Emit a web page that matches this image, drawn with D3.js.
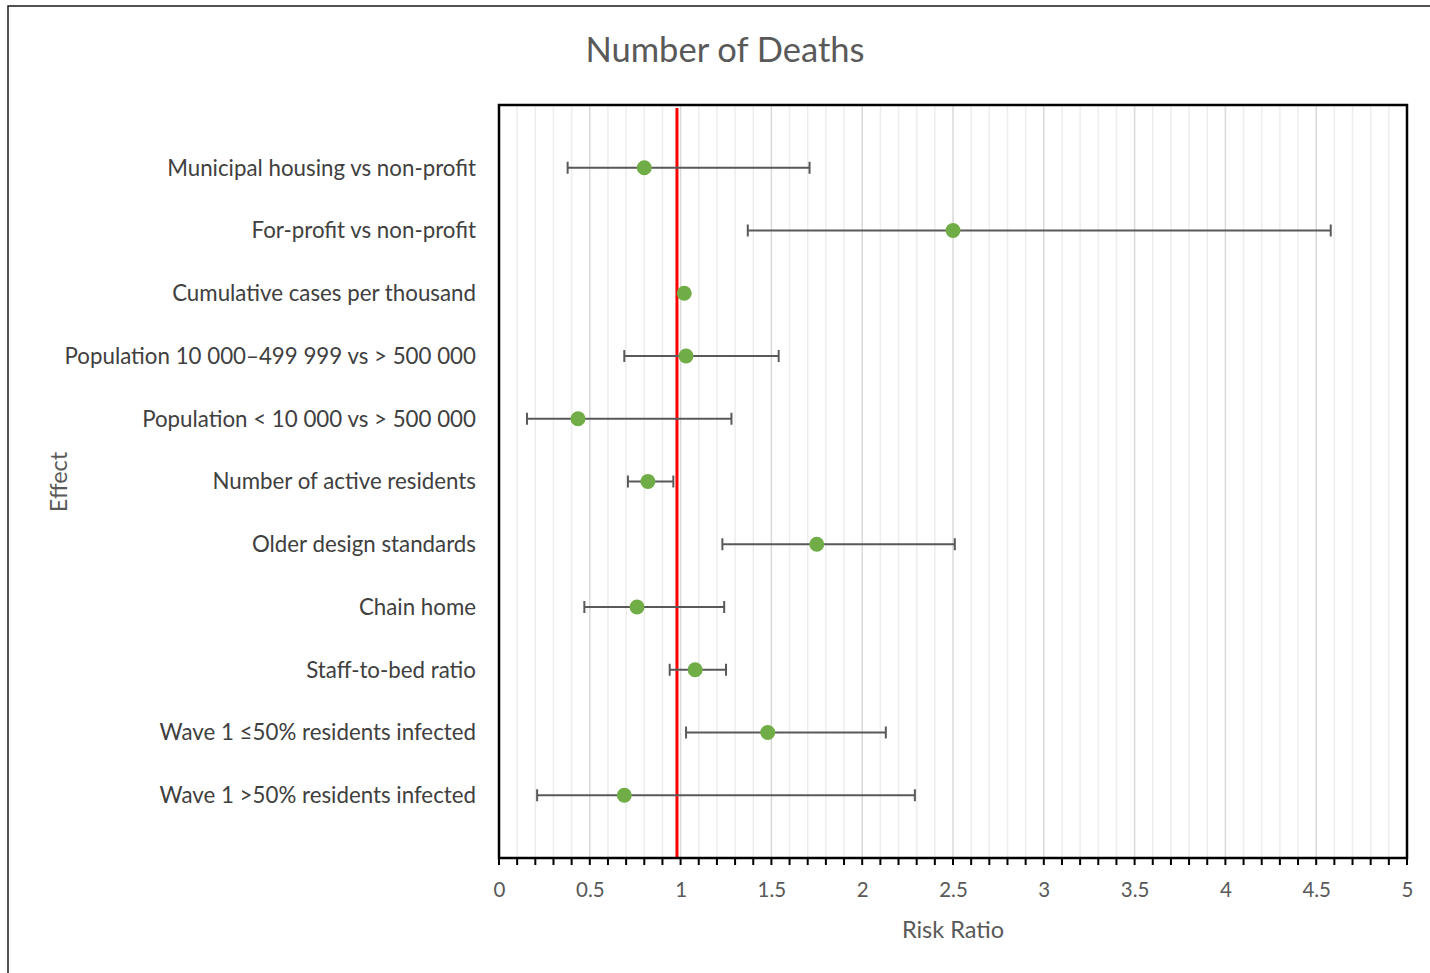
<!DOCTYPE html>
<html>
<head>
<meta charset="utf-8">
<script src="https://cdn.jsdelivr.net/npm/d3@7/dist/d3.min.js"></script>
<style>
  html, body { margin: 0; padding: 0; background: #fff; }
  svg { display: block; }
  text { font-family: Lato, "Open Sans", sans-serif; }
</style>
</head>
<body>
<svg id="chart" width="1430" height="973"></svg>
<script>
// Effects, top to bottom
const effects = [
  "Municipal housing vs non-profit",
  "For-profit vs non-profit",
  "Cumulative cases per thousand",
  "Population 10 000–499 999 vs > 500 000",
  "Population < 10 000 vs > 500 000",
  "Number of active residents",
  "Older design standards",
  "Chain home",
  "Staff-to-bed ratio",
  "Wave 1 ≤50% residents infected",
  "Wave 1 >50% residents infected"
];
// Risk ratio estimates and 95% confidence limits
const riskRatio = [0.80, 2.50, 1.02, 1.03, 0.435, 0.82, 1.75, 0.76, 1.08, 1.48, 0.69];
const lowerCI   = [0.378, 1.37, 1.015, 0.69, 0.154, 0.71, 1.23, 0.47, 0.94, 1.03, 0.21];
const upperCI   = [1.71, 4.58, 1.025, 1.54, 1.28, 0.96, 2.51, 1.24, 1.25, 2.13, 2.29];
const xTicks = [0, 0.5, 1, 1.5, 2, 2.5, 3, 3.5, 4, 4.5, 5];
const referenceLine = 0.98;

const svg = d3.select("#chart");
const plot = { left: 499, right: 1407, top: 105, bottom: 858 };

// Outer chart border
svg.append("rect")
  .attr("x", 8).attr("y", 6).attr("width", 1440).attr("height", 1000)
  .attr("fill", "none").attr("stroke", "#1a1a1a").attr("stroke-width", 1.5);

const x = d3.scaleLinear().domain([0, 5]).range([plot.left, plot.right]);
const y = d3.scaleLinear().domain([0, effects.length + 1]).range([plot.top, plot.bottom]);

// Gridlines: minor every 0.1, major every 0.5
const minor = d3.range(1, 50).map(i => i / 10).filter(v => Math.abs(v * 2 - Math.round(v * 2)) > 1e-6);
svg.append("g").selectAll("line").data(minor).join("line")
  .attr("x1", d => x(d)).attr("x2", d => x(d))
  .attr("y1", plot.top).attr("y2", plot.bottom)
  .attr("stroke", "#ededed").attr("stroke-width", 1.5);
svg.append("g").selectAll("line").data(xTicks.slice(1, -1)).join("line")
  .attr("x1", d => x(d)).attr("x2", d => x(d))
  .attr("y1", plot.top).attr("y2", plot.bottom)
  .attr("stroke", "#d9d9d9").attr("stroke-width", 1.5);

// Reference line
svg.append("line")
  .attr("x1", x(referenceLine)).attr("x2", x(referenceLine))
  .attr("y1", plot.top + 3).attr("y2", plot.bottom)
  .attr("stroke", "#ff0000").attr("stroke-width", 3);

// Error bars
const rows = effects.map((name, i) => ({ name, i, rr: riskRatio[i], lo: lowerCI[i], hi: upperCI[i] }));
const bars = svg.append("g").attr("stroke", "#595959").attr("stroke-width", 2).attr("fill", "none");
rows.forEach(d => {
  const cy = y(d.i + 1);
  bars.append("line").attr("x1", x(d.lo)).attr("x2", x(d.hi)).attr("y1", cy).attr("y2", cy);
  bars.append("line").attr("x1", x(d.lo)).attr("x2", x(d.lo)).attr("y1", cy - 6).attr("y2", cy + 6);
  bars.append("line").attr("x1", x(d.hi)).attr("x2", x(d.hi)).attr("y1", cy - 6).attr("y2", cy + 6);
});

// Point estimates
svg.append("g").selectAll("circle").data(rows).join("circle")
  .attr("cx", d => x(d.rr)).attr("cy", d => y(d.i + 1))
  .attr("r", 7.5).attr("fill", "#70ad47");

// Plot frame
svg.append("rect")
  .attr("x", plot.left).attr("y", plot.top)
  .attr("width", plot.right - plot.left).attr("height", plot.bottom - plot.top)
  .attr("fill", "none").attr("stroke", "#000").attr("stroke-width", 2.5);

// X axis with minor ticks
const minorAll = d3.range(0, 51).map(i => i / 10);
svg.append("g").selectAll("line").data(minorAll).join("line")
  .attr("x1", d => x(d)).attr("x2", d => x(d))
  .attr("y1", plot.bottom).attr("y2", plot.bottom + 7)
  .attr("stroke", "#000").attr("stroke-width", 2);

const xAxis = d3.axisBottom(x).tickValues(xTicks).tickSize(0).tickPadding(24)
  .tickFormat(d => String(d));
const gx = svg.append("g").attr("transform", `translate(0,${plot.bottom})`).call(xAxis);
gx.select(".domain").remove();
gx.selectAll("text").attr("font-size", 20.5).attr("fill", "#595959")
  .style("font-family", "Lato, 'Open Sans', sans-serif");

// Category labels
svg.append("g").selectAll("text").data(rows).join("text")
  .attr("x", 476).attr("y", d => y(d.i + 1))
  .attr("dy", "0.35em").attr("text-anchor", "end")
  .attr("font-size", 22.3).attr("fill", "#404040")
  .text(d => d.name);

// Titles
svg.append("text").attr("x", 725).attr("y", 62).attr("text-anchor", "middle")
  .attr("font-size", 34.5).attr("fill", "#595959").text("Number of Deaths");
svg.append("text").attr("x", 953).attr("y", 938).attr("text-anchor", "middle")
  .attr("font-size", 23.5).attr("fill", "#595959").text("Risk Ratio");
svg.append("text").attr("transform", "translate(67,482) rotate(-90)").attr("text-anchor", "middle")
  .attr("font-size", 23.5).attr("fill", "#595959").text("Effect");
</script>
</body>
</html>
